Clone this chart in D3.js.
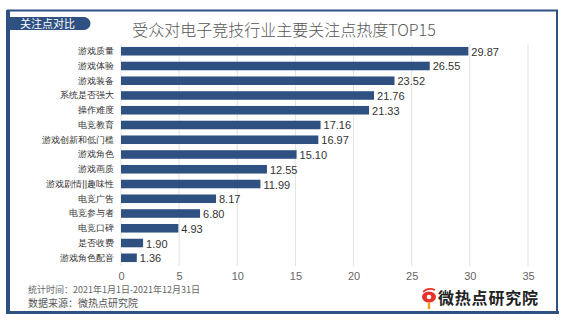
<!DOCTYPE html>
<html><head><meta charset="utf-8">
<script src="https://cdn.jsdelivr.net/npm/d3@7/dist/d3.min.js"></script>
<style>body{margin:0;background:#fff;}svg{display:block;font-family:"Noto Sans CJK SC","Noto Sans",sans-serif;}</style>
</head><body><svg id="c" width="567" height="326"></svg>
<script>
const categories = ["游戏质量","游戏体验","游戏装备","系统是否强大","操作难度","电竞教育","游戏创新和低门槛","游戏角色","游戏画质","游戏剧情||趣味性","电竞广告","电竞参与者","电竞口碑","是否收费","游戏角色配音"];
const values = [29.87,26.55,23.52,21.76,21.33,17.16,16.97,15.10,12.55,11.99,8.17,6.80,4.93,1.90,1.36];
const ticks = [0,5,10,15,20,25,30,35];
const title = "受众对电子竞技行业主要关注点热度TOP15";
const tag = "关注点对比";
const foot1 = "统计时间：2021年1月1日-2021年12月31日";
const foot2 = "数据来源：微热点研究院";
const logoText = "微热点研究院";

const svg = d3.select("#c");
const blue = "#2e5182";
// frame
svg.append("rect").attr("x",8).attr("y",10.5).attr("width",549).attr("height",302).attr("fill","none").attr("stroke",blue).attr("stroke-width",2);
svg.append("rect").attr("x",6).attr("y",10).attr("width",4).attr("height",304).attr("fill",blue);
svg.append("rect").attr("x",6).attr("y",311).attr("width",553).attr("height",3).attr("fill",blue);
// tag
svg.append("path").attr("d","M8,17 H84 A6.5,6.5 0 0 1 84,30 H8 Z").attr("fill",blue);
svg.append("text").attr("x",20).attr("y",27.5).attr("fill","#fff").attr("font-size",11).text(tag);
// title
svg.append("text").attr("x",284).attr("y",36).attr("text-anchor","middle").attr("fill","#555").attr("font-size",16).attr("font-weight",300).text(title);

const x = d3.scaleLinear().domain([0,35]).range([121,528]);
const y = d3.scaleBand().domain(categories).range([44,265]).paddingInner(0.42).paddingOuter(0.2);

// grid
svg.append("g").selectAll("line").data(ticks).join("line")
  .attr("x1",d=>x(d)).attr("x2",d=>x(d)).attr("y1",44).attr("y2",266)
  .attr("stroke","#e3e3e3").attr("stroke-width",1);

const xa = svg.append("g").attr("transform","translate(0,266)").call(d3.axisBottom(x).tickValues(ticks).tickSize(0).tickPadding(6));
xa.select(".domain").remove();
xa.selectAll("text").attr("font-size",11).attr("fill","#666").attr("font-family","Liberation Sans,DejaVu Sans,sans-serif");

const ya = svg.append("g").attr("transform","translate(114,0)").call(d3.axisLeft(y).tickSize(0).tickPadding(0));
ya.select(".domain").remove();
ya.selectAll("text").attr("font-size",9).attr("fill","#333");

svg.append("g").selectAll("rect").data(values).join("rect")
  .attr("x",x(0)).attr("y",(d,i)=>y(categories[i])).attr("width",d=>x(d)-x(0)).attr("height",y.bandwidth()).attr("fill",blue);
svg.append("g").selectAll("text").data(values).join("text")
  .attr("x",d=>x(d)+3).attr("y",(d,i)=>y(categories[i])+y.bandwidth()/2+4.5)
  .attr("fill","#333").attr("font-size",11).attr("font-family","Liberation Sans,DejaVu Sans,sans-serif")
  .text(d=>d.toFixed(2));

svg.append("text").attr("x",28).attr("y",293).attr("fill","#666").attr("font-size",9).text(foot1);
svg.append("text").attr("x",28).attr("y",306.5).attr("fill","#555").attr("font-size",10).text(foot2);

// logo
const lg = svg.append("g").attr("transform","translate(423,298)");
lg.append("ellipse").attr("cx",6).attr("cy",-1).attr("rx",7).attr("ry",5.5).attr("fill","#e8312a");
lg.append("circle").attr("cx",6).attr("cy",-1).attr("r",2.3).attr("fill","#fff");
lg.append("path").attr("d","M6,4.5 L6,11").attr("stroke","#f0a020").attr("stroke-width",2.5);
lg.append("path").attr("d","M0,-6 Q5,-11 12,-8").attr("stroke","#e8312a").attr("stroke-width",1.5).attr("fill","none");
svg.append("text").attr("x",438).attr("y",304).attr("fill","#222").attr("font-size",16).attr("font-weight","bold").attr("letter-spacing",0.8).text(logoText);
</script></body></html>
